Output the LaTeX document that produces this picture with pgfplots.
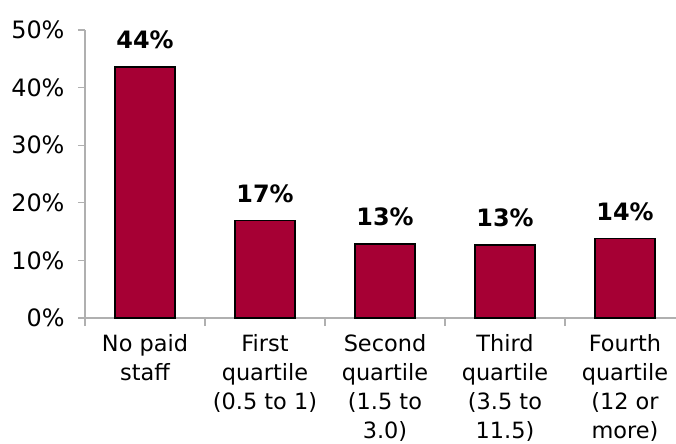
\documentclass[border=0pt]{standalone}
\usepackage{pgfplots}
\pgfplotsset{compat=1.18}
\usepackage{fontspec}
\setmainfont{DejaVu Sans}
\usetikzlibrary{calc}
\definecolor{barred}{RGB}{166,0,52}
\definecolor{axgray}{RGB}{176,176,176}
\begin{document}
\begin{tikzpicture}[x=1bp,y=1bp]
\begin{axis}[
  scale only axis, width=600bp, height=288bp,
  xmin=-0.5, xmax=4.5, ymin=0, ymax=50,
  axis x line*=bottom, axis y line*=left,
  axis line style={draw=axgray, line width=1.2bp},
  font=\fontsize{24}{29}\selectfont,
  ytick={0,10,20,30,40,50},
  yticklabels={0\%,10\%,20\%,30\%,40\%,50\%},
  xtick={0,1,2,3,4},
  xticklabels={No paid\\staff, First\\quartile\\(0.5 to 1), Second\\quartile\\(1.5 to\\3.0), Third\\quartile\\(3.5 to\\11.5), Fourth\\quartile\\(12 or\\more)},
  xticklabel style={align=center, anchor=north, yshift=-6bp, font=\fontsize{22.5}{29}\selectfont},
  yticklabel style={anchor=east, xshift=-10bp},
  x tick style={draw=none},
  y tick style={draw=axgray, line width=1.2bp},
  major tick length=7bp,
  minor xtick={-0.5,0.5,1.5,2.5,3.5,4.5},
  minor x tick style={draw=axgray, line width=1.2bp},
  minor tick length=8bp,
  tick align=outside,
  ybar, bar width=60bp,
  clip=false,
  nodes near coords, point meta=explicit symbolic,
  every node near coord/.append style={font=\fontsize{24}{29}\selectfont\bfseries, anchor=center, yshift=27bp},
]
\addplot[fill=barred, draw=black, line width=1.6bp] coordinates {
  (0,43.6) [44\%]
  (1,16.9) [17\%]
  (2,12.8) [13\%]
  (3,12.7) [13\%]
  (4,13.8) [14\%]
};
\coordinate (bl) at (rel axis cs:0,0);
\coordinate (tr) at (rel axis cs:1,1);
\end{axis}
\pgfresetboundingbox
\useasboundingbox ($(bl)+(-85bp,-126bp)$) rectangle ($(tr)+(-9bp,30bp)$);
\end{tikzpicture}
\end{document}
